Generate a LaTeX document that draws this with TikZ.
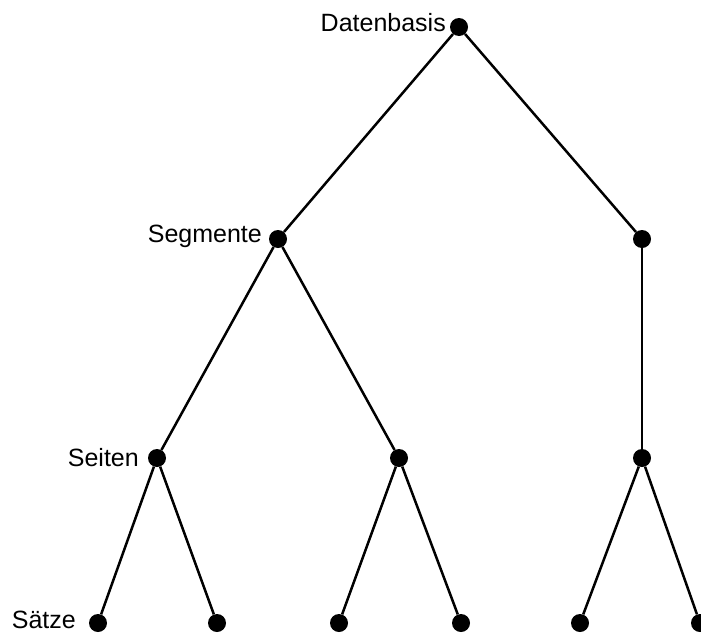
\documentclass[tikz,border=0pt]{standalone}
\usepackage{fontspec}
\setmainfont{Liberation Sans}
\usepackage{tikz}
\usetikzlibrary{positioning}

\begin{document}
\begin{tikzpicture}[
    x=1pt, y=-1pt,
    font=\fontsize{25}{29}\selectfont,
    dotnode/.style={circle, fill=black, inner sep=0pt, minimum size=18pt},
    levellabel/.style={inner sep=0pt, anchor=base east},
    edge/.style={line width=2.5pt}
  ]
  \useasboundingbox (0,0) rectangle (701,632);

  % Tree nodes
  \node[dotnode] (db) at (459,27) {};
  \node[dotnode] (seg1) at (278,239) {};
  \node[dotnode] (seg2) at (642,239) {};
  \node[dotnode] (page1) at (157,458) {};
  \node[dotnode] (page2) at (399,458) {};
  \node[dotnode] (page3) at (642,458) {};
  \node[dotnode] (rec1) at (98,623) {};
  \node[dotnode] (rec2) at (217,623) {};
  \node[dotnode] (rec3) at (339,623) {};
  \node[dotnode] (rec4) at (461,623) {};
  \node[dotnode] (rec5) at (580,623) {};
  \node[dotnode] (rec6) at (700,623) {};

  % Edges
  \draw[edge] (db) -- (seg1);
  \draw[edge] (db) -- (seg2);
  \draw[edge] (seg1) -- (page1);
  \draw[edge] (seg1) -- (page2);
  \draw[edge] (seg2) -- (page3);
  \draw[edge] (page1) -- (rec1);
  \draw[edge] (page1) -- (rec2);
  \draw[edge] (page2) -- (rec3);
  \draw[edge] (page2) -- (rec4);
  \draw[edge] (page3) -- (rec5);
  \draw[edge] (page3) -- (rec6);

  % Level labels
  \node[levellabel] (dblabel) at ([xshift=-13pt, yshift=-4pt]db.center) {Datenbasis};
  \node[levellabel] (seglabel) at ([xshift=-16pt, yshift=-3pt]seg1.center) {Segmente};
  \node[levellabel] (pagelabel) at ([xshift=-18pt, yshift=-8pt]page1.center) {Seiten};
  \node[levellabel] (reclabel) at ([xshift=-22pt, yshift=-5pt]rec1.center) {Sätze};
\end{tikzpicture}
\end{document}
